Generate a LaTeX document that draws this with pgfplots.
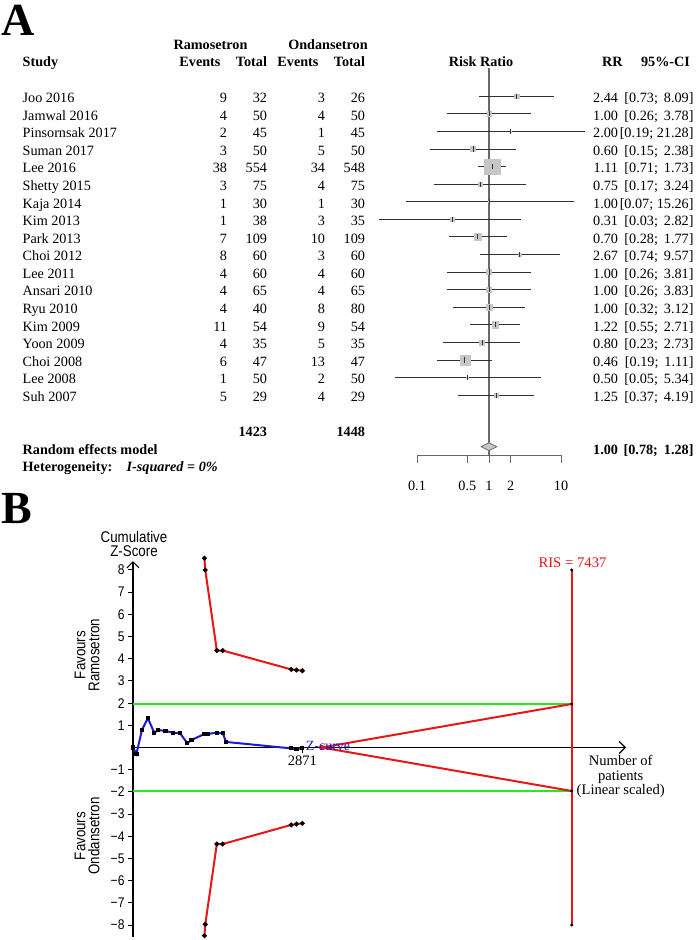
\documentclass[border=0pt]{standalone}
\usepackage{pgfplots}
\pgfplotsset{compat=1.18}
\usepackage{pgfplotstable}
\usetikzlibrary{arrows.meta}
\usepackage{fontspec}
\setmainfont{Liberation Serif}
\newfontfamily\narrowsans[FakeStretch=0.86]{Liberation Sans}
\definecolor{tsared}{RGB}{232,22,22}
\definecolor{tsagreen}{RGB}{40,232,30}
\definecolor{tsablue}{RGB}{25,25,215}
\definecolor{boxgray}{RGB}{198,198,198}
\definecolor{cigray}{RGB}{50,50,50}
\definecolor{refgray}{RGB}{105,105,105}

% forest plot: y = vertical position of the row, w = half side of the weight box (pt)
\pgfplotstableread{
rr   lo    hi     y      w
2.44 0.73  8.09  843.8  2.2
1.00 0.26  3.78  826.2  2.2
2.00 0.19 21.28  808.6  0.5
0.60 0.15  2.38  791.0  2.6
1.11 0.71  1.73  773.4  7.8
0.75 0.17  3.24  755.8  2.0
1.00 0.07 15.26  738.3  0.5
0.31 0.03  2.82  720.7  1.8
0.70 0.28  1.77  703.1  3.6
2.67 0.74  9.57  685.5  1.5
1.00 0.26  3.81  667.9  2.4
1.00 0.26  3.83  650.3  2.4
1.00 0.32  3.12  632.7  2.8
1.22 0.55  2.71  615.1  3.4
0.80 0.23  2.73  597.6  2.4
0.46 0.19  1.11  580.0  5.0
0.50 0.05  5.34  562.4  0.8
1.25 0.37  4.19  544.8  2.2
}\forestdata

% trial sequential analysis: cumulative Z-curve
\pgfplotstableread{
n     z
0     0
58   -0.29
152   0.79
252   1.32
360   0.67
430   0.79
550   0.74
680   0.67
800   0.64
920   0.19
993   0.34
1211  0.61
1271  0.61
1421  0.67
1521  0.64
1579  0.25
2681 -0.04
2771 -0.08
2871 -0.02
}\zcurve

\pgfplotstableread{
n     z
1211  8.53
1225  8.00
1421  4.37
1521  4.37
2681  3.52
2771  3.49
2871  3.46
}\upperbound

\pgfplotstableread{
n     z
1211 -8.48
1225 -7.97
1421 -4.35
1521 -4.35
2681 -3.49
2771 -3.45
2871 -3.42
}\lowerbound

\begin{document}
\begin{tikzpicture}[x=1pt,y=1pt, font=\fontsize{14.2}{17}\selectfont,
  t/.style={inner sep=0pt, outer sep=0pt}]
\path (0,0) rectangle (700,940);

% panel letters
\node[t, font=\fontsize{46}{46}\selectfont\bfseries] at (18.3,920) {A};
\node[t, font=\fontsize{46}{46}\selectfont\bfseries] at (17,431.7) {B};

% ---------- Panel A: table ----------
\begin{scope}[font=\fontsize{14.2}{17}\selectfont\bfseries]
\node[t, anchor=base] at (210.5,890.5) {Ramosetron};
\node[t, anchor=base] at (328,890.5) {Ondansetron};
\node[t, anchor=base west] at (22.7,873.5) {Study};
\node[t, anchor=base east] at (220.5,873.5) {Events};
\node[t, anchor=base east] at (267,873.5) {Total};
\node[t, anchor=base east] at (318.5,873.5) {Events};
\node[t, anchor=base east] at (365,873.5) {Total};
\node[t, anchor=base] at (481,873.5) {Risk Ratio};
\node[t, anchor=base west] at (602,873.5) {RR};
\node[t, anchor=base east] at (690,873.5) {95\%-CI};
\node[t, anchor=base east] at (267,503.2) {1423};
\node[t, anchor=base east] at (365,503.2) {1448};
\node[t, anchor=base west] at (22.7,485.5) {Random effects model};
\node[t, anchor=base east] at (618,485.5) {1.00};
\node[t, anchor=base east] at (693.5,485.5) {[0.78;\hspace{0.42em}1.28]};
\node[t, anchor=base west] at (22.7,468.3) {Heterogeneity:};
\node[t, anchor=base west] at (126.7,468.3) {\textit{I-squared} = \textit{0\%}};
\end{scope}

\foreach \i/\name/\ea/\na/\eb/\nb/\rr/\lo/\hi/\sp in {
 0/Joo 2016/9/32/3/26/2.44/0.73/8.09/0.42,
 1/Jamwal 2016/4/50/4/50/1.00/0.26/3.78/0.42,
 2/Pinsornsak 2017/2/45/1/45/2.00/0.19/21.28/0.25,
 3/Suman 2017/3/50/5/50/0.60/0.15/2.38/0.42,
 4/Lee 2016/38/554/34/548/1.11/0.71/1.73/0.42,
 5/Shetty 2015/3/75/4/75/0.75/0.17/3.24/0.42,
 6/Kaja 2014/1/30/1/30/1.00/0.07/15.26/0.25,
 7/Kim 2013/1/38/3/35/0.31/0.03/2.82/0.42,
 8/Park 2013/7/109/10/109/0.70/0.28/1.77/0.42,
 9/Choi 2012/8/60/3/60/2.67/0.74/9.57/0.42,
 10/Lee 2011/4/60/4/60/1.00/0.26/3.81/0.42,
 11/Ansari 2010/4/65/4/65/1.00/0.26/3.83/0.42,
 12/Ryu 2010/4/40/8/80/1.00/0.32/3.12/0.42,
 13/Kim 2009/11/54/9/54/1.22/0.55/2.71/0.42,
 14/Yoon 2009/4/35/5/35/0.80/0.23/2.73/0.42,
 15/Choi 2008/6/47/13/47/0.46/0.19/1.11/0.42,
 16/Lee 2008/1/50/2/50/0.50/0.05/5.34/0.42,
 17/Suh 2007/5/29/4/29/1.25/0.37/4.19/0.42}{
 \pgfmathsetmacro{\yb}{940-97.7-17.59*\i-4.8}
 \node[t, anchor=base west] at (22.7,\yb) {\name};
 \node[t, anchor=base east] at (227,\yb) {\ea};
 \node[t, anchor=base east] at (267,\yb) {\na};
 \node[t, anchor=base east] at (325,\yb) {\eb};
 \node[t, anchor=base east] at (365,\yb) {\nb};
 \node[t, anchor=base east] at (618,\yb) {\rr};
 \node[t, anchor=base east] at (693.5,\yb) {[\lo;\hspace{\sp em}\hi]};
}

% ---------- Panel A: forest plot ----------
\begin{axis}[at={(417pt,485pt)}, anchor=south west, scale only axis,
  width=144pt, height=415pt,
  xmode=log, xmin=0.1, xmax=10, ymin=485, ymax=900, clip=false,
  axis x line=bottom, axis y line=none,
  x axis line style={refgray, line width=0.9pt, -},
  xtick={0.1,0.5,1,2,10}, xticklabels={0.1,0.5,1,2,10},
  minor xtick={}, 
  tick align=outside, major tick length=8pt,
  x tick style={refgray, line width=0.9pt},
  xticklabel style={font=\fontsize{14.2}{17}\selectfont, anchor=base, yshift=-27.7pt, inner sep=0pt},
  ]
\addplot[refgray, line width=1.3pt] coordinates {(1,872) (1,485)};
\addplot[scatter, only marks, mark=square*,
  scatter/use mapped color={draw=boxgray, fill=boxgray},
  visualization depends on={\thisrow{w}\as\wsize},
  scatter/@pre marker code/.append style={/tikz/mark size=\wsize pt}]
  table[x=rr, y=y] {\forestdata};
\addplot[cigray, line width=0.9pt] coordinates {(0.73,843.8) (8.09,843.8)};
\addplot[cigray, line width=0.9pt] coordinates {(0.26,826.2) (3.78,826.2)};
\addplot[cigray, line width=0.9pt] coordinates {(0.19,808.6) (21.28,808.6)};
\addplot[cigray, line width=0.9pt] coordinates {(0.15,791.0) (2.38,791.0)};
\addplot[cigray, line width=0.9pt] coordinates {(0.71,773.4) (1.73,773.4)};
\addplot[cigray, line width=0.9pt] coordinates {(0.17,755.8) (3.24,755.8)};
\addplot[cigray, line width=0.9pt] coordinates {(0.07,738.3) (15.26,738.3)};
\addplot[cigray, line width=0.9pt] coordinates {(0.03,720.7) (2.82,720.7)};
\addplot[cigray, line width=0.9pt] coordinates {(0.28,703.1) (1.77,703.1)};
\addplot[cigray, line width=0.9pt] coordinates {(0.74,685.5) (9.57,685.5)};
\addplot[cigray, line width=0.9pt] coordinates {(0.26,667.9) (3.81,667.9)};
\addplot[cigray, line width=0.9pt] coordinates {(0.26,650.3) (3.83,650.3)};
\addplot[cigray, line width=0.9pt] coordinates {(0.32,632.7) (3.12,632.7)};
\addplot[cigray, line width=0.9pt] coordinates {(0.55,615.1) (2.71,615.1)};
\addplot[cigray, line width=0.9pt] coordinates {(0.23,597.6) (2.73,597.6)};
\addplot[cigray, line width=0.9pt] coordinates {(0.19,580.0) (1.11,580.0)};
\addplot[cigray, line width=0.9pt] coordinates {(0.05,562.4) (5.34,562.4)};
\addplot[cigray, line width=0.9pt] coordinates {(0.37,544.8) (4.19,544.8)};
\addplot[only marks, mark=|, mark size=2.6pt, mark options={cigray, line width=0.8pt}]
  table[x=rr, y=y] {\forestdata};
\addplot[fill=boxgray, draw=refgray, line width=0.8pt]
  coordinates {(0.78,493.3) (1,497.3) (1.28,493.3) (1,489.3)} -- cycle;
\end{axis}

% ---------- Panel B: trial sequential analysis ----------
\begin{axis}[at={(133pt,3pt)}, anchor=south west, scale only axis,
  width=493pt, height=375.9pt,
  xmin=0, xmax=8357, ymin=-8.54, ymax=8.4, clip=false,
  axis x line=middle, axis y line=left,
  x axis line style={black, line width=1.1pt, -{Straight Barb[length=6pt,width=12pt]}},
  y axis line style={black, line width=1.1pt, -{Straight Barb[length=6pt,width=12pt]}},
  xtick={2871}, xticklabels={2871},
  ytick={-8,-7,-6,-5,-4,-3,-2,-1,1,2,3,4,5,6,7,8},
  yticklabels={−8,−7,−6,−5,−4,−3,−2,−1,1,2,3,4,5,6,7,8},
  tick style={black, line width=1pt},
  tick align=outside, major tick length=5pt,
  yticklabel style={font=\narrowsans\fontsize{14}{14}\selectfont},
  xticklabel style={font=\fontsize{14.5}{14.5}\selectfont},
  ]
\addplot[tsagreen, line width=2.3pt] coordinates {(0,1.96) (7437,1.96)};
\addplot[tsagreen, line width=2.3pt] coordinates {(0,-1.96) (7437,-1.96)};
\addplot[tsared, line width=2pt] coordinates {(3199,0) (7437,1.96)};
\addplot[tsared, line width=2pt] coordinates {(3199,0) (7437,-1.96)};
\addplot[tsared, line width=2pt] coordinates {(7437,-8) (7437,8)};
\addplot[only marks, mark=*, mark size=1.4pt, black]
  coordinates {(7437,-8) (7437,8) (7437,1.96) (7437,-1.96)};
\addplot[tsared, line width=2pt, mark=*, mark size=1.3pt, mark options={black}]
  table[x=n, y=z] {\upperbound};
\addplot[tsared, line width=2pt, mark=*, mark size=1.3pt, mark options={black}]
  table[x=n, y=z] {\lowerbound};
\addplot[tsablue, line width=2pt, mark=square*, mark size=1.1pt, mark options={black}]
  table[x=n, y=z] {\zcurve};
\addplot[only marks, mark=*, mark size=2.4pt, tsared] coordinates {(3199,0)};
\end{axis}

% panel B labels
\node[t, align=center, font=\narrowsans\fontsize{15.5}{14}\selectfont] at (134,396) {Cumulative\\Z-Score};
\node[t, align=center, rotate=90, font=\narrowsans\fontsize{15.5}{14}\selectfont] at (87,285) {Favours\\Ramosetron};
\node[t, align=center, rotate=90, font=\narrowsans\fontsize{15.5}{14}\selectfont] at (87,104) {Favours\\Ondansetron};
\node[t, anchor=base, text=tsared, font=\fontsize{14.7}{14.7}\selectfont] at (572.5,372.7) {RIS = 7437};
\node[t, align=center, font=\fontsize{14.6}{14.6}\selectfont] at (620.7,163.3) {Number of\\patients\\(Linear scaled)};
\node[t, text=tsablue, font=\fontsize{14}{14}\selectfont] at (328,194) {Z-curve};
\end{tikzpicture}
\end{document}
